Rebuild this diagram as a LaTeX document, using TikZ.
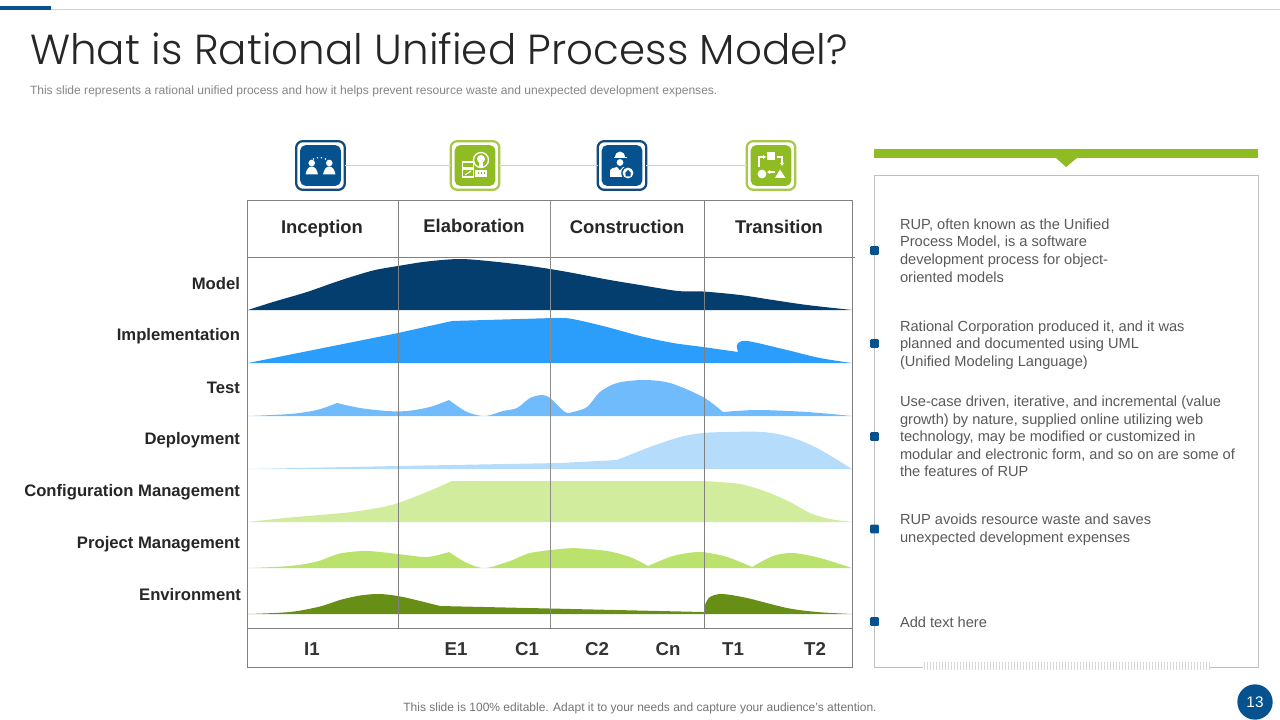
\documentclass[tikz,border=0pt]{standalone}
\usepackage{fontspec}
\setmainfont{Liberation Sans}
\newfontfamily\titlefont{Poppins Light}
\definecolor{navy}{HTML}{033E6F}
\definecolor{deepblue}{HTML}{05528F}
\definecolor{frameblue}{HTML}{134A7C}
\definecolor{midblue}{HTML}{2B9DFB}
\definecolor{skyblue}{HTML}{6FBBFC}
\definecolor{paleblue}{HTML}{B5DCFB}
\definecolor{palegreen}{HTML}{D1EC9C}
\definecolor{limegreen}{HTML}{BBE26C}
\definecolor{olivegreen}{HTML}{688F15}
\definecolor{leafgreen}{HTML}{8FBC23}
\definecolor{framegreen}{HTML}{A6C94C}

\begin{document}
\begin{tikzpicture}[%
        x = 0.75pt,
        y = -0.75pt,
        every node/.style = {
            inner sep = 0pt,
            outer sep = 0pt
        },
        grid/.style = {
            draw = black!50,
            line width = 0.75pt
        },
        hairline/.style = {
            draw = black!18,
            line width = 0.7pt
        },
        phase/.style = {
            font = \fontsize{13.8}{16}\selectfont\bfseries,
            text = black!85
        },
        discipline/.style = {
            anchor = east,
            font = \fontsize{12.5}{14}\selectfont\bfseries,
            text = black!85
        },
        milestone/.style = {
            font = \fontsize{14}{16}\selectfont\bfseries,
            text = black!80
        },
        bodytext/.style = {
            anchor = west,
            align = left,
            font = \fontsize{10.97}{13.2}\selectfont,
            text = black!65
        },
        bullet/.style = {
            fill = deepblue,
            rounded corners = 0.8pt,
            minimum size = 6.6pt
        },
        iconblue/.style = {
            draw = frameblue,
            fill = white,
            line width = 1.7pt,
            rounded corners = 5pt,
            minimum size = 36.5pt
        },
        icongreen/.style = {
            iconblue,
            draw = framegreen
        },
        iconcore/.style = {
            rounded corners = 4pt,
            minimum size = 30.5pt
        },
        glyph/.style = {
            fill = white,
            draw = none
        },
        glyphline/.style = {
            draw = white,
            line width = 0.8pt
        }
    ]

        \useasboundingbox (0, 0) rectangle (1280, 720);

        % Top rule and headings.
        \fill[deepblue] (0, 6) rectangle (51, 10.5);
        \draw[hairline] (51, 9.5) -- (1280, 9.5);
        \node[anchor = base west, font = \titlefont\fontsize{31.5}{38}\selectfont, text = black!85] (title)
            at (30, 65) {What is Rational Unified Process Model?};
        \node[anchor = west, font = \fontsize{9.04}{11}\selectfont, text = black!48] (subtitle)
            at (30, 91.5) {This slide represents a rational unified process and how it helps prevent resource waste and unexpected development expenses.};

        % Areas for each discipline.
        \fill[navy] plot[smooth, tension = 0.5] coordinates {(248, 310) (273, 302) (307, 292) (340, 280.5)
            (373, 270.5) (398, 266) (427, 261.5) (460, 259) (493, 261.5) (523, 265) (550, 269) (573, 273)
            (607, 279.5) (640, 285) (678, 291) (703, 291.5) (740, 295) (773, 300) (807, 305) (852, 310)} -- cycle;

        \fill[midblue] (248, 363) -- (398, 333) -- (452, 321)
            -- plot[smooth, tension = 0.5] coordinates {(452, 321) (520, 319) (560, 318) (575, 319.5) (607, 327)
            (640, 336) (673, 343) (703, 347) (738, 352)}
            -- plot[smooth, tension = 0.6] coordinates {(738, 352) (737, 345) (742, 341) (753, 342)
            (787, 350) (820, 358) (852, 363)} -- cycle;

        \fill[skyblue] plot[smooth, tension = 0.5] coordinates {(248, 416) (290, 414) (317, 410) (337, 403)}
            -- plot[smooth, tension = 0.5] coordinates {(337, 403) (360, 408) (387, 411) (407, 411) (430, 407) (449, 400)}
            -- plot[smooth, tension = 0.5] coordinates {(449, 400) (467, 412) (485, 416) (503, 411) (517, 408)
            (530, 398) (542, 395) (550, 398) (565, 412) (573, 412) (587, 407) (600, 392) (617, 383)
            (643, 380) (670, 383) (703, 397) (723, 412)}
            -- plot[smooth, tension = 0.5] coordinates {(723, 412) (757, 410) (807, 412) (852, 416)} -- cycle;

        \fill[paleblue] (248, 469) -- (398, 466) -- (560, 463) -- (617, 460)
            -- plot[smooth, tension = 0.5] coordinates {(617, 460) (650, 447) (680, 437) (703, 433) (727, 432)
            (763, 432) (790, 437) (817, 448) (852, 469)} -- cycle;

        \fill[palegreen] plot[smooth, tension = 0.5] coordinates {(248, 522) (290, 517.5) (347, 512.5) (380, 507.5)
            (398, 503) (427, 492) (452, 481)}
            -- plot[smooth, tension = 0.5] coordinates {(703, 481) (740, 484) (767, 492) (790, 502) (810, 513)
            (830, 519) (852, 522)} -- cycle;

        \fill[limegreen] plot[smooth, tension = 0.5] coordinates {(248, 568) (290, 566) (317, 561.5) (340, 553.5)
            (367, 551) (398, 554) (427, 557) (449, 552)}
            -- plot[smooth, tension = 0.5] coordinates {(449, 552) (467, 563) (485, 568) (510, 561) (530, 553)
            (560, 549) (573, 548) (607, 551) (630, 557) (648, 566)}
            -- plot[smooth, tension = 0.5] coordinates {(648, 566) (673, 556) (700, 552) (727, 557) (752, 567)}
            -- plot[smooth, tension = 0.5] coordinates {(752, 567) (773, 556) (793, 553) (820, 558) (852, 568)} -- cycle;

        \fill[olivegreen] plot[smooth, tension = 0.5] coordinates {(248, 614) (290, 612) (320, 606.5) (340, 600)
            (360, 595.5) (380, 594) (403, 597) (440, 606)} -- (703, 612)
            -- plot[smooth, tension = 0.5] coordinates {(705, 612) (705, 605) (710, 597) (722, 594) (747, 598)
            (787, 608) (817, 612) (852, 614)} -- cycle;

        % Table grid drawn over the areas.
        \draw[grid] (247.5, 201) rectangle (852.5, 667);
        \draw[grid] (247.5, 257) -- (855, 257);
        \draw[grid] (247.5, 628) -- (852.5, 628);
        \draw[grid] (398.5, 201) -- (398.5, 628);
        \draw[grid, draw = black!45] (550.5, 201) -- (550.5, 628);
        \draw[grid] (704.5, 201) -- (704.5, 628);

        % Phase headings.
        \node[phase] (inception) at (322, 229) {Inception};
        \node[phase] (elaboration) at (474, 226) {Elaboration};
        \node[phase] (construction) at (627, 227) {Construction};
        \node[phase] (transition) at (779, 227) {Transition};

        % Discipline names.
        \node[discipline] (model) at (240, 284) {Model};
        \node[discipline] (implementation) at (240, 336) {Implementation};
        \node[discipline] (test) at (240, 388) {Test};
        \node[discipline] (deployment) at (240, 440) {Deployment};
        \node[discipline] (configuration) at (240, 492) {Configuration Management};
        \node[discipline] (project) at (240, 544) {Project Management};
        \node[discipline] (environment) at (241, 595) {Environment};

        % Milestones along the bottom.
        \node[milestone] (i1) at (312, 649) {I1};
        \node[milestone] (e1) at (456, 649) {E1};
        \node[milestone] (c1) at (527, 649) {C1};
        \node[milestone] (c2) at (597, 649) {C2};
        \node[milestone] (cn) at (668, 649) {Cn};
        \node[milestone] (t1) at (733, 649) {T1};
        \node[milestone] (t2) at (815, 649) {T2};

        % Icon frames and the line joining them.
        \node[iconblue] (iconinception) at (320.5, 165.5) {};
        \node[icongreen] (iconelaboration) at (475, 165.5) {};
        \node[iconblue] (iconconstruction) at (622, 165.5) {};
        \node[icongreen] (icontransition) at (771, 165.5) {};
        \node[iconcore, fill = deepblue] (coreinception) at (iconinception) {};
        \node[iconcore, fill = leafgreen] (coreelaboration) at (iconelaboration) {};
        \node[iconcore, fill = deepblue] (coreconstruction) at (iconconstruction) {};
        \node[iconcore, fill = leafgreen] (coretransition) at (icontransition) {};
        \draw[hairline] (iconinception) -- (iconelaboration);
        \draw[hairline] (iconelaboration) -- (iconconstruction);
        \draw[hairline] (iconconstruction) -- (icontransition);

        % Two people.
        \fill[glyph] (311.7, 163) circle (3.3);
        \fill[glyph] (329.3, 163) circle (3.3);
        \fill[glyph] (305.5, 174.5) .. controls (306.5, 169) and (309, 166.5) .. (311.7, 166.5)
            .. controls (314.5, 166.5) and (317, 169) .. (318, 174.5) -- cycle;
        \fill[glyph] (323, 174.5) .. controls (324, 169) and (326.5, 166.5) .. (329.3, 166.5)
            .. controls (332, 166.5) and (334.5, 169) .. (335.5, 174.5) -- cycle;
        \foreach \dotx/\doty in {313.5/159, 317.5/157.7, 321.5/157.7, 325.5/159}
            \fill[glyph] (\dotx, \doty) circle (0.9);

        % Bulb and panels.
        \draw[glyphline, line width = 1pt] (481, 160) circle (7.5);
        \fill[glyph] (481, 159) circle (4);
        \fill[glyph] (479, 162) rectangle (483, 167);
        \draw[glyphline] (462.5, 161.5) rectangle (473.5, 168);
        \fill[glyph] (462, 161) rectangle (474, 163.5);
        \draw[glyphline] (462.5, 169.5) rectangle (473.5, 177);
        \draw[glyphline] (465, 175) -- (471, 171);
        \fill[glyph] (475, 170) rectangle (486.5, 177);
        \foreach \gapx in {478, 481, 484}
            \fill[leafgreen] (\gapx, 172.5) rectangle (\gapx + 1, 174.5);

        % Engineer with a home badge.
        \fill[glyph] (615, 157.5) arc[start angle = 180, end angle = 360, x radius = 5, y radius = 6] -- cycle;
        \fill[glyph] (613.5, 157) rectangle (626.5, 158.5);
        \fill[glyph] (620, 162.5) circle (3.4);
        \fill[glyph] (610, 177) -- (610, 171) .. controls (610, 168.5) and (614, 167.5) .. (617, 167)
            -- (620, 170.5) -- (623, 167) .. controls (626, 167.5) and (630, 168.5) .. (630, 171) -- (630, 177) -- cycle;
        \fill[deepblue] (628, 173) circle (6.8);
        \fill[glyph] (628, 173) circle (5.4);
        \fill[deepblue] (624.5, 173.5) -- (628, 170) -- (631.5, 173.5) -- (630.5, 173.5) -- (630.5, 176.5)
            -- (625.5, 176.5) -- (625.5, 173.5) -- cycle;

        % Shapes joined by arrows.
        \fill[glyph] (767, 152) rectangle (775, 160);
        \fill[glyph] (762, 174) circle (4.4);
        \fill[glyph] (775, 178) -- (780, 169.5) -- (785.5, 178) -- cycle;
        \draw[glyphline] (759, 167) -- (759, 157) -- (763, 157);
        \fill[glyph] (763, 155) -- (766, 157) -- (763, 159) -- cycle;
        \draw[glyphline] (777, 157) -- (782, 157) -- (782, 163);
        \fill[glyph] (780, 163) -- (782, 166) -- (784, 163) -- cycle;
        \draw[glyphline] (775, 172) -- (770, 172);
        \fill[glyph] (770, 170) -- (767, 172) -- (770, 174) -- cycle;

        % Panel on the right.
        \fill[leafgreen] (874, 149) rectangle (1258, 158);
        \fill[leafgreen] (1056, 158) -- (1066, 167) -- (1077, 158) -- cycle;
        \draw[draw = black!25, line width = 0.75pt] (874.5, 176) rectangle (1258.5, 667);
        \fill[white] (923, 664) rectangle (1209, 670);
        \foreach \tickx in {0, 1, ..., 95}
            \draw[draw = black!15, line width = 0.4pt] (924 + 3 * \tickx, 662) -- (924 + 3 * \tickx, 670);

        % Bullets with their texts.
        \node[bullet] (bulletone) at (874.5, 250.5) {};
        \node[bullet] (bullettwo) at (874.5, 343.5) {};
        \node[bullet] (bulletthree) at (874.5, 436.5) {};
        \node[bullet] (bulletfour) at (874.5, 529) {};
        \node[bullet] (bulletfive) at (874.5, 621.5) {};
        \node[bodytext] (textone) at (900, 250.5) {RUP, often known as the Unified\\Process Model, is a software\\development process for object-\\oriented models};
        \node[bodytext] (texttwo) at (900, 345) {Rational Corporation produced it, and it was\\planned and documented using UML\\(Unified Modeling Language)};
        \node[bodytext] (textthree) at (900, 436.5) {Use-case driven, iterative, and incremental (value\\growth) by nature, supplied online utilizing web\\technology, may be modified or customized in\\modular and electronic form, and so on are some of\\the features of RUP};
        \node[bodytext] (textfour) at (900, 529.5) {RUP avoids resource waste and saves\\unexpected development expenses};
        \node[bodytext] (textfive) at (900, 622) {Add text here};

        % Footer.
        \node[font = \fontsize{9}{11}\selectfont, text = black!55] (footer)
            at (640, 708.5) {This slide is 100\% editable. Adapt it to your needs and capture your audience's attention.};
        \node[circle, fill = deepblue, minimum size = 26.5pt, text = white, font = \fontsize{11.5}{13}\selectfont] (pagenumber)
            at (1255, 702) {13};

    \end{tikzpicture}
\end{document}
